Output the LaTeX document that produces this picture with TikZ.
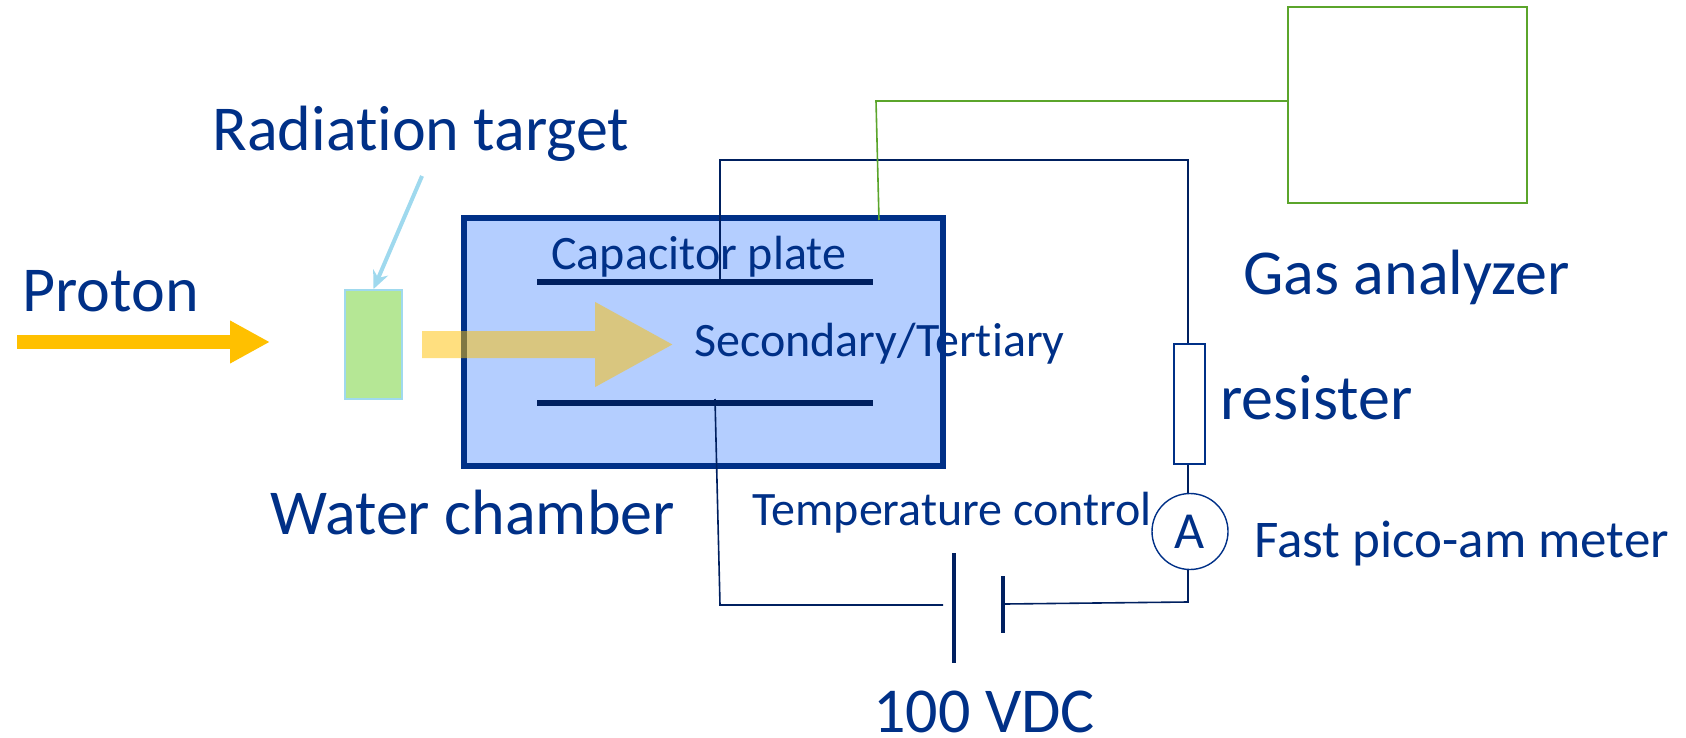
\documentclass[tikz,border=0pt]{standalone}
\usepackage{fontspec}
\setmainfont{Carlito}[Ligatures=NoCommon]
\usetikzlibrary{arrows.meta}
\definecolor{TextBlue}{HTML}{003087}
\definecolor{WireBlue}{HTML}{002060}
\definecolor{ChamberBlue}{HTML}{B4CEFF}
\definecolor{TargetGreen}{HTML}{B5E795}
\definecolor{TargetEdge}{HTML}{9FD9EE}
\definecolor{ProtonOrange}{HTML}{FFC000}
\definecolor{GasGreen}{HTML}{5BA52B}

\begin{document}
\begin{tikzpicture}[x=0.5pt,y=-0.5pt]
    \tikzstyle{LabelStyle}=[anchor     = base west,
                            inner sep  = 0pt,
                            text       = TextBlue]
    \tikzstyle{BigLabel}=[LabelStyle,
                          font = \fontsize{32}{38}\selectfont]
    \tikzstyle{SmallLabel}=[LabelStyle,
                            font = \fontsize{24}{29}\selectfont]
    \tikzstyle{BoxStyle}=[shape     = rectangle,
                          inner sep = 0pt]
    \tikzstyle{WireStyle}=[draw       = WireBlue,
                           line width = 0.8pt]
    \tikzstyle{GasStyle}=[draw       = GasGreen,
                          line width = 0.8pt]
    \tikzstyle{PlateStyle}=[draw       = WireBlue,
                            line width = 2.8pt]
    \useasboundingbox (0,0) rectangle (1686,738);
    % chamber and target
    \node[BoxStyle, draw = TextBlue, fill = ChamberBlue, line width = 2.8pt,
          minimum width = 239.5pt, minimum height = 124pt] (Chamber) at (703.5,342) {};
    \node[BoxStyle, draw = TargetEdge, fill = TargetGreen, line width = 0.9pt,
          minimum width = 28.5pt, minimum height = 54.5pt] (Target) at (373.5,344.5) {};
    \node[BoxStyle, draw = GasGreen, line width = 0.8pt,
          minimum width = 119.5pt, minimum height = 98pt] (GasBox) at (1407.5,105) {};
    % plates
    \coordinate (UpperL) at (537,282);
    \coordinate (UpperR) at (873,282);
    \coordinate (LowerL) at (537,403);
    \coordinate (LowerR) at (873,403);
    \draw[PlateStyle] (UpperL) -- (UpperR);
    \draw[PlateStyle] (LowerL) -- (LowerR);
    % beams
    \coordinate (ProtonTail) at (17,342);
    \coordinate (ProtonTip) at (270,342);
    \draw[-{Triangle[length=20pt,width=20pt]}, draw = ProtonOrange, fill = ProtonOrange,
          line width = 7pt] (ProtonTail) -- (ProtonTip);
    \coordinate (BeamTail) at (422,344.5);
    \coordinate (BeamTip) at (674,344.5);
    \begin{scope}[transparency group, opacity = 0.5]
        \draw[-{Triangle[length=39.5pt,width=39.5pt]}, draw = ProtonOrange, fill = ProtonOrange,
              line width = 13.5pt] (BeamTail) -- (BeamTip);
    \end{scope}
    \coordinate (PointerTail) at (422,176);
    \draw[-{Stealth[length=9pt,width=8pt]}, draw = TargetEdge, line width = 2pt]
        (PointerTail) -- (Target.north);
    % circuit
    \node[BoxStyle, draw = TextBlue, fill = white, line width = 0.7pt,
          minimum width = 15.5pt, minimum height = 60pt] (Resister) at (1189.5,404) {};
    \node[shape = circle, draw = TextBlue, fill = white, line width = 0.7pt, inner sep = 0pt,
          minimum size = 38pt, text = TextBlue,
          font = \fontsize{26}{31}\selectfont] (Meter) at (1190,531.5) {A};
    \coordinate (PlateTop) at (720,282);
    \coordinate (CornerA) at (720,160);
    \coordinate (CornerB) at (1188,160);
    \coordinate (PlateBottom) at (715,399);
    \coordinate (CornerC) at (720,605);
    \coordinate (CornerD) at (1188,602);
    \coordinate (BattLongTop) at (954,553);
    \coordinate (BattLongBot) at (954,663);
    \coordinate (BattShortTop) at (1003,576);
    \coordinate (BattShortBot) at (1003,633);
    \coordinate (BattLongIn) at (943,605);
    \coordinate (BattShortIn) at (1005,604);
    \draw[WireStyle] (PlateTop) -- (CornerA) -- (CornerB) -- (Resister.north -| CornerB);
    \draw[WireStyle] (Resister.south -| CornerB) -- (Meter.north -| CornerB);
    \draw[WireStyle] (Meter.south -| CornerB) -- (CornerD) -- (BattShortIn);
    \draw[WireStyle] (PlateBottom) -- (CornerC) -- (BattLongIn);
    \draw[draw = WireBlue, line width = 2.2pt] (BattLongTop) -- (BattLongBot);
    \draw[draw = WireBlue, line width = 2.2pt] (BattShortTop) -- (BattShortBot);
    % gas line
    \coordinate (GasIn) at (1288,101);
    \coordinate (GasCorner) at (876,101);
    \coordinate (GasOut) at (879,220);
    \draw[GasStyle] (GasIn) -- (GasCorner) -- (GasOut);
    % labels
    \node[BigLabel] (RadLabel) at (212,150) {Radiation target};
    \node[BigLabel] (ProtonLabel) at (22,311) {Proton};
    \node[BigLabel] (WaterLabel) at (270,534) {Water chamber};
    \node[BigLabel] (GasLabel) at (1243,294) {Gas analyzer};
    \node[BigLabel] (ResisterLabel) at (1220,419) {resister};
    \node[BigLabel] (VoltLabel) at (873,732) {100 VDC};
    \node[SmallLabel] (CapLabel) at (551,269) {Capacitor plate};
    \node[SmallLabel] (SecLabel) at (694,356) {Secondary/Tertiary};
    \node[SmallLabel] (TempLabel) at (752,525) {Temperature control};
    \node[LabelStyle, font = \fontsize{26.5}{32}\selectfont] (FastLabel) at (1254,557) {Fast pico-am meter};
\end{tikzpicture}
\end{document}
